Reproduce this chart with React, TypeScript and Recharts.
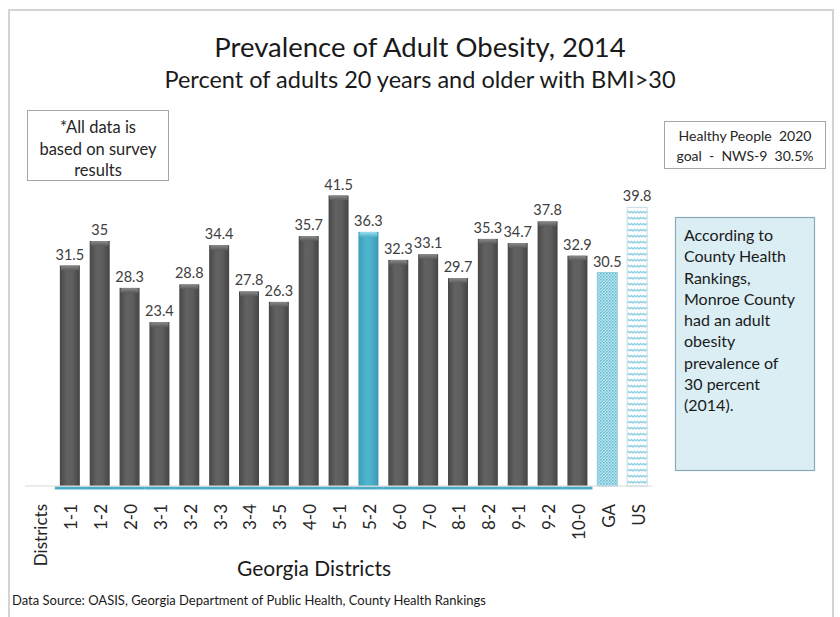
import React from "react";
import { BarChart, Bar, XAxis, YAxis, Cell, LabelList } from "recharts";

const categories = ["Districts", "1-1", "1-2", "2-0", "3-1", "3-2", "3-3", "3-4", "3-5", "4-0", "5-1", "5-2", "6-0", "7-0", "8-1", "8-2", "9-1", "9-2", "10-0", "GA", "US"];
const values: (number | null)[] = [null, 31.5, 35, 28.3, 23.4, 28.8, 34.4, 27.8, 26.3, 35.7, 41.5, 36.3, 32.3, 33.1, 29.7, 35.3, 34.7, 37.8, 32.9, 30.5, 39.8];

const title = "Prevalence of Adult Obesity, 2014";
const subtitle = "Percent of adults 20 years and older with BMI>30";
const noteLines = ["*All data is", "based on survey", "results"];
const goalLines = ["Healthy People  2020", "goal  -  NWS-9  30.5%"];
const monroeLines = ["According to", "County Health", "Rankings,", "Monroe County", "had an adult", "obesity", "prevalence of", "30 percent", "(2014)."];
const xTitle = "Georgia Districts";
const source = "Data Source: OASIS, Georgia Department of Public Health, County Health Rankings";

const data = categories.map((c, i) => ({ name: c, value: values[i] }));

const FONT = "Lato, 'Open Sans', sans-serif";

const fillFor = (name: string) => {
  if (name === "GA") return "url(#gaPattern)";
  if (name === "US") return "url(#usPattern)";
  if (name === "5-2") return "url(#blueGrad)";
  return "url(#grayGrad)";
};

const BarShape = (props: any) => {
  const { x, y, width, height, payload } = props;
  if (payload == null || payload.value == null || height <= 0) return <g />;
  const name = payload.name;
  const isRef = name === "GA" || name === "US";
  const isBlue = name === "5-2";
  const cap = Math.min(5, height);
  return (
    <g>
      <rect
        x={x}
        y={y}
        width={width}
        height={height}
        fill={fillFor(name)}
        stroke={isRef ? (name === "GA" ? "#8fcfdf" : "#c4dfe7") : "none"}
        strokeWidth={isRef ? 1 : 0}
      />
      {!isRef && (
        <rect x={x + 1} y={y} width={width - 2} height={cap} rx={1.5} fill={isBlue ? "url(#blueCap)" : "url(#grayCap)"} />
      )}
      {!isRef && (
        <line x1={x - 5} x2={x + width + 5} y1={y + height + 2} y2={y + height + 2} stroke="#4BACC6" strokeWidth={3} />
      )}
    </g>
  );
};

const Tick = (props: any) => {
  const { x, y, payload } = props;
  return (
    <text
      x={0}
      y={0}
      transform={`translate(${x + 1},${y + 10}) rotate(-90)`}
      textAnchor="end"
      dominantBaseline="central"
      fontFamily={FONT}
      fontSize={17}
      fill="#262626"
    >
      {payload.value}
    </text>
  );
};

export default function App() {
  return (
    <div style={{ position: "absolute", left: 0, top: 0, width: 840, height: 617, background: "#ffffff" }}>
      <BarChart
        width={840}
        height={617}
        data={data}
        margin={{ top: 136, right: 188, bottom: 71, left: 25 }}
        barCategoryGap={0}
      >
        <defs>
          <linearGradient id="grayGrad" x1="0" y1="0" x2="1" y2="0">
            <stop offset="0" stopColor="#474747" />
            <stop offset="0.35" stopColor="#626262" />
            <stop offset="0.65" stopColor="#5e5e5e" />
            <stop offset="1" stopColor="#444444" />
          </linearGradient>
          <linearGradient id="grayCap" x1="0" y1="0" x2="0" y2="1">
            <stop offset="0" stopColor="#8a8a8a" />
            <stop offset="1" stopColor="#5a5a5a" />
          </linearGradient>
          <linearGradient id="blueGrad" x1="0" y1="0" x2="1" y2="0">
            <stop offset="0" stopColor="#3a9fba" />
            <stop offset="0.4" stopColor="#50b4ce" />
            <stop offset="0.65" stopColor="#4cb0ca" />
            <stop offset="1" stopColor="#3998b2" />
          </linearGradient>
          <linearGradient id="blueCap" x1="0" y1="0" x2="0" y2="1">
            <stop offset="0" stopColor="#9fe0ef" />
            <stop offset="1" stopColor="#4cb0ca" />
          </linearGradient>
          <pattern id="gaPattern" width="3" height="3" patternUnits="userSpaceOnUse">
            <rect width="3" height="3" fill="#bfe6ef" />
            <rect x="0" y="0" width="1.5" height="1.5" fill="#5fbad1" />
            <rect x="1.5" y="1.5" width="1.5" height="1.5" fill="#7cc8da" />
          </pattern>
          <pattern id="usPattern" width="6" height="6" patternUnits="userSpaceOnUse">
            <rect width="6" height="6" fill="#ffffff" />
            <polyline points="0,3 1.5,1.5 3,3 4.5,1.5 6,3" fill="none" stroke="#8fd0e2" strokeWidth="1.3" />
          </pattern>
        </defs>
        <XAxis
          dataKey="name"
          interval={0}
          tickLine={false}
          axisLine={{ stroke: "#d9d9d9", strokeWidth: 1 }}
          tick={<Tick />}
          height={60}
        />
        <YAxis hide domain={[0, 50]} />
        <Bar dataKey="value" barSize={20} isAnimationActive={false} shape={<BarShape />}>
          {data.map((d) => (
            <Cell key={d.name} fill={fillFor(d.name)} />
          ))}
          <LabelList
            dataKey="value"
            position="top"
            offset={6}
            fontFamily={FONT}
            fontSize={14.5}
            fill="#404040"
            formatter={(v: any) => (v == null ? "" : String(v))}
          />
        </Bar>
      </BarChart>
      <svg
        width={840}
        height={617}
        style={{ position: "absolute", left: 0, top: 0, pointerEvents: "none" }}
        fontFamily={FONT}
      >
        <rect x={9} y={10} width={824} height={620} fill="none" stroke="#d4d4d4" strokeWidth={2} />
        <text x={420} y={57} textAnchor="middle" fontSize={27.5} fill="#1a1a1a">{title}</text>
        <text x={420} y={88} textAnchor="middle" fontSize={23.5} fill="#1a1a1a">{subtitle}</text>
        <rect x={27.5} y={110.5} width={141} height={70} fill="#ffffff" stroke="#a6a6a6" strokeWidth={1} />
        {noteLines.map((l, i) => (
          <text key={l} x={98} y={133 + i * 21.5} textAnchor="middle" fontSize={16.5} fill="#262626">{l}</text>
        ))}
        <rect x={664.5} y={121.5} width={161} height={47} fill="#ffffff" stroke="#a6a6a6" strokeWidth={1} />
        {goalLines.map((l, i) => (
          <text key={l} x={745} y={141 + i * 20} textAnchor="middle" fontSize={14} fill="#262626" xmlSpace="preserve">{l}</text>
        ))}
        <rect x={675.5} y={217.5} width={139} height={253} fill="#DBEEF4" stroke="#8da8b8" strokeWidth={1.2} />
        {monroeLines.map((l, i) => (
          <text key={l} x={684} y={241 + i * 21.25} fontSize={16} fill="#1a1a1a">{l}</text>
        ))}
        <text x={314} y={576} textAnchor="middle" fontSize={21} fill="#1a1a1a">{xTitle}</text>
        <text x={12} y={605} fontSize={13} fill="#1a1a1a">{source}</text>
      </svg>
    </div>
  );
}
